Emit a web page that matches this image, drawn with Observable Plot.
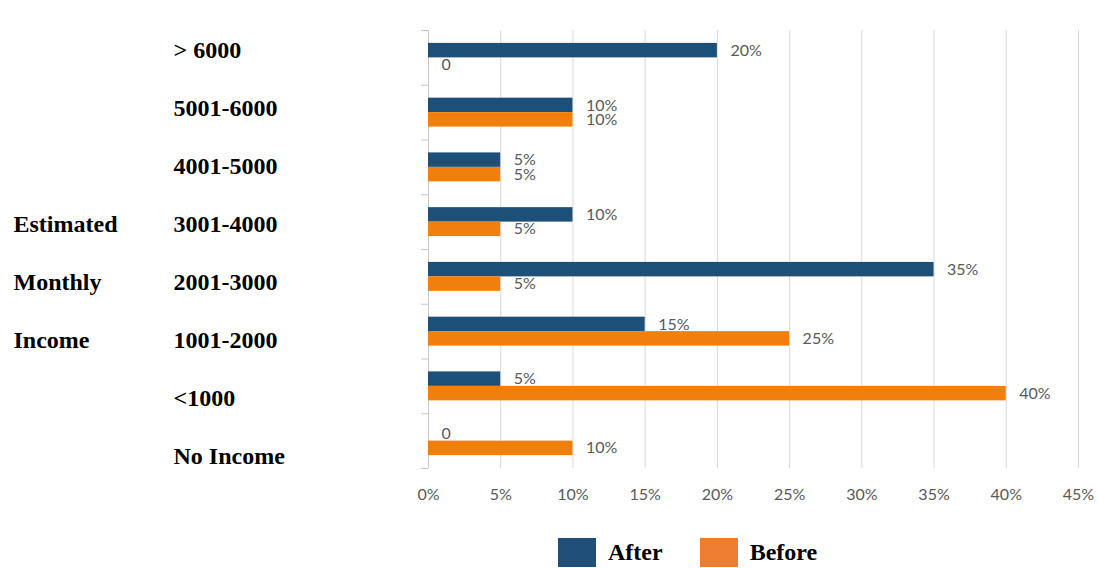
<!DOCTYPE html>
<html>
<head>
<meta charset="utf-8">
<script src="https://cdn.jsdelivr.net/npm/d3@7"></script>
<script src="https://cdn.jsdelivr.net/npm/@observablehq/plot@0.6"></script>
<style>
  body { margin: 0; background: #fff; }
  #chart { position: relative; width: 1098px; height: 568px; overflow: hidden; }
  #chart > .labels { position: absolute; left: 0; top: 0; pointer-events: none; }
  .lg-swatch { margin-right: 37px; }
  .lg-swatch > svg { margin-right: 12px; }
</style>
</head>
<body>
<div id="chart"></div>
<script>
// Income brackets, top to bottom
const categories = ["> 6000", "5001-6000", "4001-5000", "3001-4000", "2001-3000", "1001-2000", "<1000", "No Income"];
// Share of respondents in each bracket
const afterShare  = [0.20, 0.10, 0.05, 0.10, 0.35, 0.15, 0.05, 0.00];
const beforeShare = [0.00, 0.10, 0.05, 0.05, 0.05, 0.25, 0.40, 0.10];
const seriesNames = ["After", "Before"];
// Group heading, one word per row
const groupTitle = ["Estimated", "Monthly", "Income"];
const groupTitleRows = ["3001-4000", "2001-3000", "1001-2000"];
// Axis ticks
const xTicks = [0, 0.05, 0.10, 0.15, 0.20, 0.25, 0.30, 0.35, 0.40, 0.45];

const barColors = ["#1d5079", "#f07f0b"];
const legendColors = ["#1f4e79", "#ed7d31"];
const pct = d3.format(".0%");

// One record per bar; each row holds an "After" bar above a "Before" bar
const rows = categories.flatMap((cat, i) => [
  {cat, row: i, k: 0, series: seriesNames[0], value: afterShare[i]},
  {cat, row: i, k: 1, series: seriesNames[1], value: beforeShare[i]}
]);
const rowPad = 0.2356;   // empty space above/below the pair, as a fraction of a row
const barFrac = 0.2644;  // thickness of one bar, as a fraction of a row

const main = Plot.plot({
  width: 1098,
  height: 515,
  marginLeft: 428,
  marginRight: 20,
  marginTop: 30,
  marginBottom: 47,
  style: {fontFamily: "Lato, 'Open Sans', sans-serif", fontSize: "16px", color: "#595959", background: "white"},
  x: {type: "linear", domain: [0, 0.45]},
  y: {type: "linear", domain: [0, categories.length], reverse: true},
  color: {domain: seriesNames, range: barColors},
  marks: [
    Plot.gridX(xTicks, {stroke: "#d9d9d9", strokeOpacity: 1}),
    Plot.ruleX([0], {stroke: "#c8c8c8"}),
    Plot.axisY(d3.range(categories.length + 1), {tickSize: 7, tickFormat: () => "", stroke: "#c8c8c8", label: null}),
    Plot.axisX(xTicks, {tickSize: 0, tickPadding: 20, tickFormat: pct, label: null, fill: "#595959", fontSize: 16}),
    Plot.rect(rows, {
      x1: 0,
      x2: "value",
      y1: d => d.row + rowPad + d.k * barFrac,
      y2: d => d.row + rowPad + (d.k + 1) * barFrac,
      fill: "series"
    }),
    Plot.text(rows, {
      x: "value",
      y: d => d.row + rowPad + (d.k + 0.5) * barFrac,
      text: d => d.value === 0 ? "0" : pct(d.value),
      textAnchor: "start",
      dx: 13,
      fill: "#595959",
      fontSize: 16
    })
  ]
});

// Category names and the group heading, set in their own column on the left
const labelRows = categories.map(c => ({col: "range", cat: c, text: c}))
  .concat(groupTitle.map((t, j) => ({col: "group", cat: groupTitleRows[j], text: t})));

const labels = Plot.plot({
  width: 420,
  height: 515,
  margin: 0,
  style: {fontFamily: "'Liberation Serif', 'Times New Roman', serif", background: "transparent", overflow: "visible"},
  x: {type: "point", domain: ["group", "range"], range: [13, 173], padding: 0, axis: null},
  y: {type: "point", domain: categories, range: [48, 457], padding: 0, axis: null},
  marks: [
    Plot.text(labelRows, {x: "col", y: "cat", text: "text", textAnchor: "start", fontWeight: "bold", fontSize: 24, fill: "black"})
  ]
});
labels.classList.add("labels");

const legend = Plot.legend({
  color: {domain: seriesNames, range: legendColors},
  legend: "swatches",
  swatchWidth: 38,
  swatchHeight: 29,
  className: "lg",
  style: {
    fontFamily: "'Liberation Serif', 'Times New Roman', serif",
    fontWeight: "bold",
    fontSize: "24px",
    color: "black",
    marginLeft: "558px",
    marginTop: "21px"
  }
});

const chart = document.getElementById("chart");
chart.append(main, labels, legend);
</script>
</body>
</html>
